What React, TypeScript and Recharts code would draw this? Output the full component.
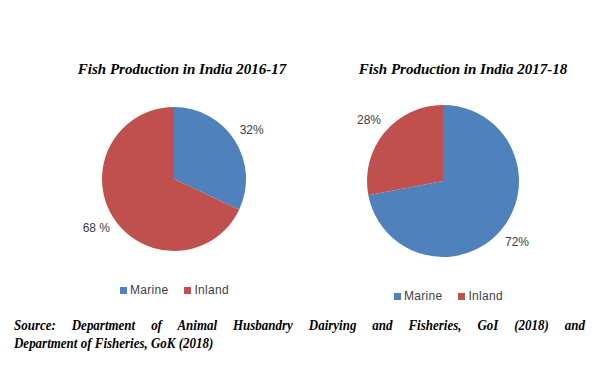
import React from "react";
import { PieChart, Pie, Cell, Legend } from "recharts";

const categories = ["Marine", "Inland"];
const values2016 = [32, 68];
const values2017 = [72, 28];
const labels2016 = ["32%", "68 %"];
const labels2017 = ["72%", "28%"];
const colors = ["#4F81BD", "#C0504D"];
const titles = ["Fish Production in India 2016-17", "Fish Production in India 2017-18"];
const sourceLines = [
  "Source: Department of Animal Husbandry Dairying and Fisheries, GoI (2018) and",
  "Department of Fisheries, GoK (2018)",
];

const RAD = Math.PI / 180;

const makeLabel = (labels: string[]) => (props: any) => {
  const { cx, cy, midAngle, outerRadius, index } = props;
  const r = outerRadius + 20;
  const x = cx + r * Math.cos(-midAngle * RAD);
  const y = cy + r * Math.sin(-midAngle * RAD);
  return (
    <text
      x={x}
      y={y}
      textAnchor="middle"
      dominantBaseline="central"
      fill="#404040"
      fontSize={12}
      fontFamily="'Liberation Sans', Arial, sans-serif"
    >
      {labels[index]}
    </text>
  );
};

const LegendContent = () => (
  <div style={{ display: "flex", fontFamily: "'Liberation Sans', Arial, sans-serif", fontSize: 12, color: "#404040" }}>
    {categories.map((c, i) => (
      <div key={c} style={{ display: "flex", alignItems: "center", marginRight: i === 0 ? 16 : 0 }}>
        <span style={{ display: "inline-block", width: 7, height: 7, background: colors[i], marginRight: 3 }} />
        <span style={{ letterSpacing: 0.3 }}>{c}</span>
      </div>
    ))}
  </div>
);

const PieBlock = ({
  values,
  labels,
  cx,
  cy,
  r,
  legendLeft,
  legendTop,
}: {
  values: number[];
  labels: string[];
  cx: number;
  cy: number;
  r: number;
  legendLeft: number;
  legendTop: number;
}) => {
  const data = categories.map((name, i) => ({ name, value: values[i] }));
  return (
    <PieChart width={300} height={368} margin={{ top: 0, right: 0, bottom: 0, left: 0 }}>
      <Pie
        data={data}
        dataKey="value"
        nameKey="name"
        cx={cx}
        cy={cy}
        outerRadius={r}
        startAngle={90}
        endAngle={-270}
        stroke="none"
        label={makeLabel(labels)}
        labelLine={false}
        isAnimationActive={false}
      >
        {data.map((d, i) => (
          <Cell key={d.name} fill={colors[i]} />
        ))}
      </Pie>
      <Legend
        content={<LegendContent />}
        wrapperStyle={{ position: "absolute", left: legendLeft, top: legendTop, width: "auto" }}
      />
    </PieChart>
  );
};

const titleStyle: React.CSSProperties = {
  position: "absolute",
  fontFamily: "'Liberation Serif', 'Times New Roman', serif",
  fontWeight: "bold",
  fontStyle: "italic",
  fontSize: 15,
  color: "#000",
  whiteSpace: "nowrap",
  textAlign: "center",
  width: 300,
};

const SCALE = 0.865;

const sourceStyle: React.CSSProperties = {
  fontFamily: "'Liberation Serif', 'Times New Roman', serif",
  fontWeight: "bold",
  fontStyle: "italic",
  fontSize: 15,
  lineHeight: "18px",
  color: "#000",
  whiteSpace: "nowrap",
};

export default function App() {
  return (
    <div style={{ position: "absolute", left: 0, top: 0, width: 600, height: 368, background: "#fff", overflow: "hidden" }}>
      <div style={{ position: "absolute", left: 0, top: 0 }}>
        <PieBlock values={values2016} labels={labels2016} cx={174} cy={179} r={72} legendLeft={120} legendTop={283} />
      </div>
      <div style={{ position: "absolute", left: 300, top: 0 }}>
        <PieBlock values={values2017} labels={labels2017} cx={143} cy={181} r={76} legendLeft={94} legendTop={289} />
      </div>
      <div style={{ ...titleStyle, left: 32, top: 61 }}>{titles[0]}</div>
      <div style={{ ...titleStyle, left: 313, top: 61 }}>{titles[1]}</div>
      <div
        style={{
          position: "absolute",
          left: 14,
          top: 316,
          width: 571 / SCALE,
          transform: `scaleX(${SCALE})`,
          transformOrigin: "0 0",
        }}
      >
        <div style={{ ...sourceStyle, textAlign: "justify", textAlignLast: "justify" }}>{sourceLines[0]}</div>
        <div style={sourceStyle}>{sourceLines[1]}</div>
      </div>
    </div>
  );
}
